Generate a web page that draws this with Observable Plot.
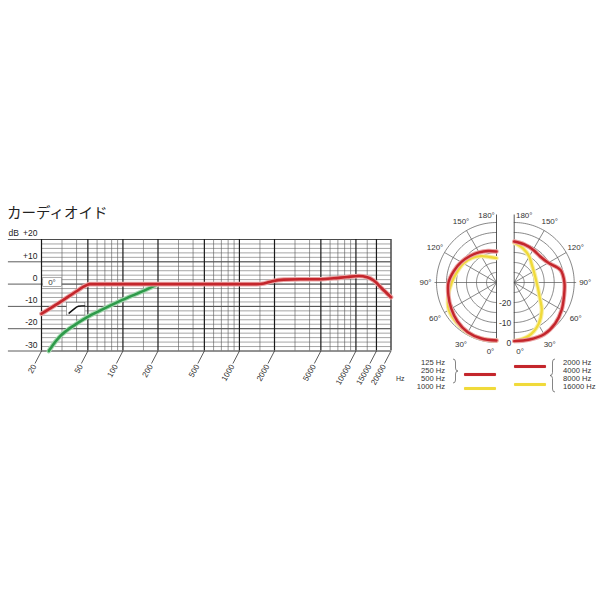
<!DOCTYPE html>
<html>
<head>
<meta charset="utf-8">
<script src="https://cdn.jsdelivr.net/npm/d3@7"></script>
<script src="https://cdn.jsdelivr.net/npm/@observablehq/plot@0.6"></script>
<style>
  body { margin: 0; background: #fff; }
  #page { position: relative; width: 600px; height: 600px; overflow: hidden; background: #fff;
          font-family: "Liberation Sans", Arial, sans-serif; color: #222; }
  #title { position: absolute; left: 7px; top: 205px; font-family: "Noto Sans CJK JP", sans-serif;
           font-size: 14.5px; line-height: 1; color: #222; white-space: nowrap; }
  .lg { position: absolute; font-size: 7.6px; line-height: 8.2px; color: #333; white-space: nowrap; }
  .sw { position: absolute; height: 3px; border-radius: 1px; }
</style>
</head>
<body>
<div id="page">
  <div id="title">カーディオイド</div>
</div>
<script>
// ---------------- Frequency response data ----------------
const freqTicks = [20, 50, 100, 200, 500, 1000, 2000, 5000, 10000, 15000, 20000];
const freqTickLabels = ["20", "50", "100", "200", "500", "1000", "2000", "5000", "10000", "15000", "20000"];
const freqMinor = [30, 40, 60, 70, 80, 90, 150, 300, 400, 600, 700, 800, 900, 1500, 3000, 4000, 6000, 7000, 8000, 9000, 12500];
const dbMajor = [20, 10, 0, -10, -20, -30];
const dbLabels = ["+20", "+10", "0", "-10", "-20", "-30"];
const dbMinor = d3.range(-30, 21, 2);

// 0° on-axis response (red)
const redHz = [20, 30, 40, 48, 52, 60, 100, 200, 500, 1000, 1400, 1620, 1910, 2400, 3340, 4970, 6460, 8410, 10590, 12500, 14230, 16820, 20000];
const redDb = [-13.3, -7.5, -3.2, -0.6, 0, 0, 0, 0, 0, 0, 0, 0.3, 1.3, 2.0, 2.2, 2.2, 2.6, 3.2, 3.6, 3.1, 1.6, -2.1, -5.9];
// low-cut response (green)
const greenHz = [23.1, 26, 29.1, 33, 37.9, 49.4, 64.2, 99.1, 141.6, 196.9];
const greenDb = [-30, -26.2, -23.2, -20.8, -18.6, -14.8, -11.8, -7.1, -3.6, -0.2];

// annotation boxes (in Hz / dB)
const annoBoxes = [
  {x1: 20.7, x2: 30.1, y1: 2.83, y2: -1.39},
  {x1: 33.2, x2: 47.6, y1: -8.48, y2: -14.08}
];
const annoText = [{x: 24.6, y: 0.7, text: "0°"}];
const iconHz = [34.5, 39.5, 41.5, 46.8];
const iconDb = [-13.0, -10.5, -9.9, -9.8];

// ---------------- Polar data ----------------
const polarAngles = [0, 15, 30, 45, 60, 75, 90, 105, 120, 135, 150, 165, 180];
// left half: 125–1000 Hz
const lowRedDb    = [-1, -1, -1.3, -2.4, -3.9, -5.1, -6.0, -7.9, -9.6, -11.3, -12.6, -13.7, -14.5];
const lowYellowDb = [-1, -1, -1.1, -1.7, -2.5, -5.0, -7.6, -9.6, -10.9, -12.7, -14.8, -16.8, -17.8];
// right half: 2000–16000 Hz
const highRedDb    = [-0.7, -0.5, -0.1, -1.0, -2.6, -4.2, -4.9, -6.0, -10.3, -11.6, -11.1, -10.3, -9.5];
const highYellowDb = [-0.7, -2.3, -5.8, -10.5, -15.3, -17.6, -18.8, -19.1, -18.7, -17.5, -15.0, -12.5, -10.0];
const angleTicks = [0, 30, 60, 90, 120, 150, 180];
const ringDb = [0, -5, -10, -15, -20, -25];
const ringLabelDb = [0, -10, -20];
const ringLabels = ["0", "-10", "-20"];

const RED = "#c4262c", RED_HALO = "#eba3a3";
const YEL = "#f0da3a", YEL_HALO = "#f8efaa";
const GREEN = "#2e9a4a", GREEN_HALO = "#a5d8b0";

// ---------------- Frequency chart ----------------
const toRows = (xs, ys) => xs.map((x, i) => ({x, y: ys[i]}));
const redRows = toRows(redHz, redDb);
const greenRows = toRows(greenHz, greenDb);
const iconRows = toRows(iconHz, iconDb);

const slantRatio = 0.8794, slantDb = -35.6;   // end of slanted tick
const labRatio = 0.872, labDb = -36.3;        // tick label anchor
const labelEdgeHz = 10.4, yLabelHz = 18.47;

const freqPlot = Plot.plot({
  width: 410, height: 160,
  margin: 0,
  style: {background: "transparent", overflow: "visible", fontFamily: "Liberation Sans, Arial, sans-serif"},
  x: {type: "log", domain: [20, 20000], range: [41, 390.5], axis: null},
  y: {domain: [-30, 20], range: [125.5, 14], axis: null},
  marks: [
    Plot.ruleY(dbMinor, {x1: 20, x2: 20000, stroke: "#5a5a5a", strokeWidth: 0.55}),
    Plot.ruleY(dbMajor, {x1: labelEdgeHz, x2: 20000, stroke: "#333", strokeWidth: 0.8}),
    Plot.ruleX(freqMinor, {y1: -30, y2: 20, stroke: "#555", strokeWidth: 0.6}),
    Plot.ruleX(freqTicks, {y1: -30, y2: 20, stroke: "#1a1a1a", strokeWidth: 1.2}),
    Plot.link(freqTicks, {x1: d => d, y1: -30, x2: d => d * slantRatio, y2: slantDb, stroke: "#333", strokeWidth: 0.8}),
    Plot.text(freqTicks, {x: d => d * labRatio, y: labDb, text: freqTickLabels, rotate: -60, textAnchor: "end",
                          fontSize: 8, fill: "#333"}),
    Plot.text(["Hz"], {x: 20000, y: -42.3, dx: 5, text: d => d, textAnchor: "start", fontSize: 7, fill: "#333"}),
    Plot.text(dbMajor, {x: yLabelHz, y: d => d, dy: -6, text: dbLabels, textAnchor: "end", fontSize: 8.5, fill: "#222"}),
    Plot.text(["dB"], {x: labelEdgeHz, y: 20, dy: -6, text: d => d, textAnchor: "start", fontSize: 8.5, fill: "#222"}),
    Plot.rect(annoBoxes, {x1: "x1", x2: "x2", y1: "y1", y2: "y2", fill: "white", stroke: "#777", strokeWidth: 0.6}),
    Plot.text(annoText, {x: "x", y: "y", text: "text", fontSize: 8, fill: "#333"}),
    Plot.line(iconRows, {x: "x", y: "y", stroke: "#111", strokeWidth: 1.5, strokeLinejoin: "round", curve: "catmull-rom"}),
    Plot.line(greenRows, {x: "x", y: "y", stroke: GREEN_HALO, strokeWidth: 4.6, curve: "monotone-x"}),
    Plot.line(greenRows, {x: "x", y: "y", stroke: GREEN, strokeWidth: 2.6, curve: "monotone-x"}),
    Plot.line(redRows, {x: "x", y: "y", stroke: RED_HALO, strokeWidth: 4.6, curve: "monotone-x"}),
    Plot.line(redRows, {x: "x", y: "y", stroke: RED, strokeWidth: 2.6, curve: "monotone-x"})
  ]
});
freqPlot.style.position = "absolute";
freqPlot.style.left = "0px";
freqPlot.style.top = "225px";
document.getElementById("page").appendChild(freqPlot);

// ---------------- Polar chart ----------------
const HALF_GAP = 8.85;
const halves = [{side: "low", sign: -1, cx: 0}, {side: "high", sign: 1, cx: HALF_GAP}];
function polar(h, angle, r) {
  const t = angle * Math.PI / 180;
  return {x: h.cx + h.sign * r * Math.sin(t), y: -r * Math.cos(t)};
}
const ringPts = [];
for (const h of halves) for (const db of ringDb) for (const a of d3.range(0, 181, 2))
  ringPts.push({...polar(h, a, 30 + db), key: h.side + db});
const spokes = [];
for (const h of halves) for (const a of [30, 60, 90, 120, 150]) {
  const p = polar(h, a, a === 90 ? 31 : 30);
  spokes.push({x1: h.cx, y1: 0, x2: p.x, y2: p.y});
}
const axes = halves.map(h => ({x1: h.cx, y1: -30, x2: h.cx, y2: 34}));
const angleLabelPts = [];
for (const h of halves) for (const a of angleTicks) {
  let p;
  if (a === 180) { p = polar(h, a, 33.3); p.x += h.sign * 5; }
  else if (a === 0) { p = polar(h, a, 34.5); p.x += h.sign * 3; }
  else p = polar(h, a, 35.5);
  angleLabelPts.push({...p, text: a + "°"});
}
const curve = (h, dbs) => polarAngles.map((a, i) => polar(h, a, 30 + dbs[i]));
const lowRed = curve(halves[0], lowRedDb), lowYel = curve(halves[0], lowYellowDb);
const highRed = curve(halves[1], highRedDb), highYel = curve(halves[1], highYellowDb);
const ringLabelPts = ringLabelDb.map((d, i) => ({x: HALF_GAP, y: -(30 + d), text: ringLabels[i]}));

const polarLine = (data, stroke, w) => Plot.line(data, {x: "x", y: "y", stroke, strokeWidth: w, curve: "catmull-rom"});

const polarPlot = Plot.plot({
  width: 190, height: 152,
  margin: 0,
  style: {background: "transparent", overflow: "visible", fontFamily: "Liberation Sans, Arial, sans-serif"},
  x: {domain: [-30, 30], range: [26, 146], axis: null},
  y: {domain: [-30, 30], range: [137, 17], axis: null},
  marks: [
    Plot.line(ringPts, {x: "x", y: "y", z: "key", stroke: "#555", strokeWidth: 0.7}),
    Plot.link(spokes, {x1: "x1", y1: "y1", x2: "x2", y2: "y2", stroke: "#555", strokeWidth: 0.7}),
    Plot.link(axes, {x1: "x1", y1: "y1", x2: "x2", y2: "y2", stroke: "#444", strokeWidth: 0.9}),
    polarLine(lowYel, YEL_HALO, 4.4), polarLine(lowYel, YEL, 2.3),
    polarLine(highYel, YEL_HALO, 4.4), polarLine(highYel, YEL, 2.3),
    polarLine(lowRed, RED_HALO, 4.4), polarLine(lowRed, RED, 2.4),
    polarLine(highRed, RED_HALO, 4.4), polarLine(highRed, RED, 2.4),
    Plot.text(angleLabelPts, {x: "x", y: "y", text: "text", fontSize: 8, fill: "#333"}),
    Plot.text(ringLabelPts, {x: "x", y: "y", text: "text", dx: -3, dy: 1, textAnchor: "end", fontSize: 8.5, fill: "#333"})
  ]
});
polarPlot.style.position = "absolute";
polarPlot.style.left = "410px";
polarPlot.style.top = "205px";
document.getElementById("page").appendChild(polarPlot);

// ---------------- Legend (HTML) ----------------
const lowBands = ["125 Hz", "250 Hz", "500 Hz", "1000 Hz"];
const highBands = ["2000 Hz", "4000 Hz", "8000 Hz", "16000 Hz"];
const page = document.getElementById("page");
function el(tag, cls, css, html) {
  const e = document.createElement(tag);
  if (cls) e.className = cls;
  Object.assign(e.style, css);
  if (html != null) e.innerHTML = html;
  page.appendChild(e);
  return e;
}
el("div", "lg", {left: "395px", top: "358.6px", width: "50px", textAlign: "right"}, lowBands.join("<br>"));
el("div", "lg", {left: "563px", top: "358.6px", width: "40px", textAlign: "left"}, highBands.join("<br>"));
el("div", "sw", {left: "464px", top: "373px", width: "32px", background: RED, boxShadow: "0 0 1px " + RED_HALO});
el("div", "sw", {left: "464px", top: "387px", width: "32px", background: YEL, boxShadow: "0 0 1px " + YEL_HALO});
el("div", "sw", {left: "514px", top: "364.5px", width: "32px", background: RED, boxShadow: "0 0 1px " + RED_HALO});
el("div", "sw", {left: "514px", top: "382.5px", width: "32px", background: YEL, boxShadow: "0 0 1px " + YEL_HALO});
function brace(x, y, w, h, flip) {
  const m = h / 2;
  const d = `M0,0 Q${w/2},0 ${w/2},3 L${w/2},${m-3} Q${w/2},${m} ${w},${m} Q${w/2},${m} ${w/2},${m+3} L${w/2},${h-3} Q${w/2},${h} 0,${h}`;
  const ns = "http://www.w3.org/2000/svg";
  const s = document.createElementNS(ns, "svg");
  s.setAttribute("width", w + 2); s.setAttribute("height", h + 2);
  Object.assign(s.style, {position: "absolute", left: x + "px", top: y + "px", overflow: "visible"});
  const p = document.createElementNS(ns, "path");
  p.setAttribute("d", d);
  p.setAttribute("fill", "none"); p.setAttribute("stroke", "#666"); p.setAttribute("stroke-width", "0.8");
  if (flip) p.setAttribute("transform", `translate(${w},0) scale(-1,1)`);
  s.appendChild(p);
  page.appendChild(s);
}
brace(453, 359, 5, 24, false);
brace(550, 359, 5, 33, true);
</script>
</body>
</html>
